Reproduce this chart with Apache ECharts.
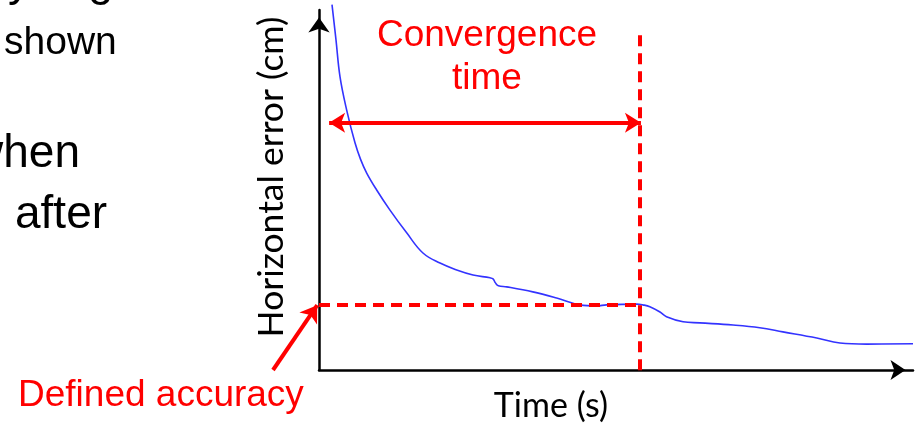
<!DOCTYPE html>
<html><head><meta charset="utf-8">
<script src="https://cdn.jsdelivr.net/npm/echarts@6/dist/echarts.min.js"></script>
<style>html,body{margin:0;padding:0;background:#fff}#c{width:922px;height:424px}</style>
</head><body><div id="c"></div>
<script>
// Horizontal error curve (x: time, % of axis span; y: error, % of axis span)
const timeS = [2.19, 2.86, 3.54, 4.66, 6.06, 7.0, 8.03, 9.71, 11.95, 14.76, 17.5, 20.37, 23.18, 25.93, 28.79, 29.3, 29.7, 30.2, 31.6, 36.0, 40.0, 43.9, 46.75, 48.4, 53.5, 54.5, 55.7, 57.4, 58.5, 61.3, 64.1, 69.7, 74.2, 78.1, 83.8, 87.7, 92.2, 100];
const errorCm = [101.5, 91.7, 81.4, 72.2, 63.1, 58.5, 54.7, 50, 44.4, 38.1, 32.5, 29.7, 27.8, 26.4, 25.6, 25.3, 24.2, 23.4, 23.1, 21.7, 20, 18.1, 17.8, 18.1, 18.3, 18.1, 17.6, 16.1, 14.8, 13.4, 13.1, 12.5, 11.75, 10.6, 8.9, 7.5, 7.2, 7.3];
// annotation values (same units)
const accuracyLevel = 18.06;
const convergenceTime = 54.0;
const convArrowY = 68.7;
const convArrowEnds = [1.7, 54.2];
const convLineRange = [-1.5, 93];
const accArrowFrom = [-7.74, 0];
const accArrowTo = [-0.3, 18.0];
const labels = {
  x: 'Time (s)', y: 'Horizontal error (cm)',
  conv: ['Convergence', 'time'], acc: 'Defined accuracy'
};
const slideText = ['shown', 'when', 'after'];

const W = 922, H = 424;
const G = {left: 319, right: 9, top: 10, bottom: 54};
const pw = W - G.left - G.right, ph = H - G.top - G.bottom;
// overlay axes with identical scale, spanning the whole canvas (for annotations outside the plot)
const ox = [-G.left / pw * 100, 100 + G.right / pw * 100];
const oy = [-G.bottom / ph * 100, 100 + G.top / ph * 100];

const chart = echarts.init(document.getElementById('c'), null, {renderer: 'canvas'});
const red = '#ff0000';
const calib = 'Lato, "Open Sans", sans-serif';
const arial = '"Liberation Sans", Arial, sans-serif';
function txt(text, x, y, size, fam, color, align, extra) {
  return Object.assign({
    type: 'text', x: x, y: y, silent: true,
    style: {text: text, font: size + 'px ' + fam, fill: color,
      align: align, textAlign: align, verticalAlign: 'middle', textVerticalAlign: 'middle'}
  }, extra || {});
}
const hidden = {show: false};
const dash = {color: red, width: 4, type: [11, 7]};
const solid = {color: red, width: 4, type: 'solid'};
chart.setOption({
  animation: false,
  grid: [G, {left: 0, right: 0, top: 0, bottom: 0}],
  xAxis: [{
    type: 'value', min: 0, max: 100, gridIndex: 0,
    axisLine: {show: true, lineStyle: {color: '#000', width: 2.5}, symbol: ['none', 'arrow'], symbolSize: [15, 15], symbolOffset: [0, -7.5]},
    axisTick: hidden, axisLabel: hidden, splitLine: hidden
  }, {
    type: 'value', min: ox[0], max: ox[1], gridIndex: 1,
    axisLine: hidden, axisTick: hidden, axisLabel: hidden, splitLine: hidden
  }],
  yAxis: [{
    type: 'value', min: 0, max: 100, gridIndex: 0,
    axisLine: {show: true, lineStyle: {color: '#000', width: 2.5}, symbol: ['none', 'arrow'], symbolSize: [16, 15], symbolOffset: [0, -7.5]},
    axisTick: hidden, axisLabel: hidden, splitLine: hidden
  }, {
    type: 'value', min: oy[0], max: oy[1], gridIndex: 1,
    axisLine: hidden, axisTick: hidden, axisLabel: hidden, splitLine: hidden
  }],
  series: [{
    type: 'line', clip: false, showSymbol: false, symbol: 'none',
    smooth: 0.4,
    lineStyle: {color: '#3333ff', width: 1.6},
    data: timeS.map((t, i) => [t, errorCm[i]]),
    z: 2
  }, {
    type: 'line', xAxisIndex: 1, yAxisIndex: 1, data: [], symbol: 'none', z: 3,
    markLine: {
      silent: true, animation: false, label: {show: false},
      data: [
        [{coord: [0, accuracyLevel], symbol: 'none', lineStyle: dash},
         {coord: [convergenceTime, accuracyLevel], symbol: 'none'}],
        [{coord: [convergenceTime, convLineRange[1]], symbol: 'none', lineStyle: dash},
         {coord: [convergenceTime, convLineRange[0]], symbol: 'none'}],
        [{coord: [convArrowEnds[0], convArrowY], symbol: 'arrow', symbolSize: [15, 16], lineStyle: solid},
         {coord: [convArrowEnds[1], convArrowY], symbol: 'arrow', symbolSize: [15, 16]}],
        [{coord: accArrowFrom, symbol: 'none', lineStyle: solid},
         {coord: accArrowTo, symbol: 'arrow', symbolSize: [16, 16]}]
      ]
    }
  }],
  graphic: [
    txt(labels.conv[0], 487, 36, 37, arial, red, 'center'),
    txt(labels.conv[1], 487, 79, 37, arial, red, 'center'),
    txt(labels.acc, 18, 396, 37, arial, red, 'left'),
    txt(labels.x, 551, 406, 34, calib, '#000', 'center'),
    txt(labels.y, 272, 177, 35.5, calib, '#000', 'center', {rotation: Math.PI / 2}),
    txt(slideText[0], 4, 43, 39, arial, '#000', 'left'),
    txt(slideText[1], 80, 154, 46, arial, '#000', 'right'),
    txt(slideText[2], 15, 215, 46, arial, '#000', 'left'),
    txt('y', 8, -18, 46, arial, '#000', 'left'),
    txt('g', 88, -18, 46, arial, '#000', 'left')
  ]
});
</script></body></html>
